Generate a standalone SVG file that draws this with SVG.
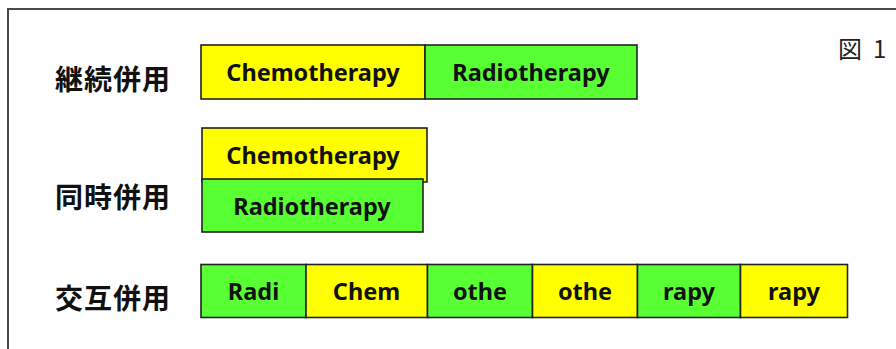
<svg xmlns="http://www.w3.org/2000/svg" width="896" height="349" viewBox="0 0 896 349">
<style>
.frame{fill:#fff;stroke:#4a4a4a;stroke-width:2}
.box{stroke:#222;stroke-width:1.6}
.y{fill:#ffff00}
.g{fill:#58ff33}
.t{font-family:"Noto Sans","Open Sans",sans-serif;font-weight:bold;font-size:23.5px;fill:#111;text-anchor:middle;dominant-baseline:central}
.lbl{font-family:"Noto Sans CJK JP","Noto Sans",sans-serif;font-weight:bold;font-size:28px;letter-spacing:1px;fill:#111;dominant-baseline:central}
.fig{font-family:"Noto Sans CJK JP","Noto Sans",sans-serif;font-size:24px;fill:#222;dominant-baseline:central}
</style>
<rect x="0" y="0" width="896" height="349" fill="#fff"/>
<rect class="frame" x="8" y="9" width="900" height="350"/>
<text class="fig" y="47"><tspan x="838">図</tspan><tspan x="873">1</tspan></text>
<g id="row1">
<text class="lbl" x="55" y="78">継続併用</text>
<g id="r1-chemo"><rect class="box y" x="201" y="45" width="224" height="54"/><text class="t" x="313" y="72">Chemotherapy</text></g>
<g id="r1-radio"><rect class="box g" x="425" y="45" width="212" height="54"/><text class="t" x="531" y="72">Radiotherapy</text></g>
</g>
<g id="row2">
<text class="lbl" x="55" y="196">同時併用</text>
<g id="r2-chemo"><rect class="box y" x="202" y="128" width="225" height="54"/><text class="t" x="313" y="155">Chemotherapy</text></g>
<g id="r2-radio"><rect class="box g" x="202" y="179" width="221" height="53"/><text class="t" x="312" y="206">Radiotherapy</text></g>
</g>
<g id="row3">
<text class="lbl" x="55" y="297">交互併用</text>
<g id="r3-1"><rect class="box g" x="201" y="264.5" width="105" height="53"/><text class="t" x="253.5" y="291">Radi</text></g>
<g id="r3-2"><rect class="box y" x="306" y="264.5" width="121.5" height="53"/><text class="t" x="366.5" y="291">Chem</text></g>
<g id="r3-3"><rect class="box g" x="427.5" y="264.5" width="105" height="53"/><text class="t" x="480" y="291">othe</text></g>
<g id="r3-4"><rect class="box y" x="532.5" y="264.5" width="105" height="53"/><text class="t" x="585" y="291">othe</text></g>
<g id="r3-5"><rect class="box g" x="637.5" y="264.5" width="103" height="53"/><text class="t" x="689" y="291">rapy</text></g>
<g id="r3-6"><rect class="box y" x="740.5" y="264.5" width="107" height="53"/><text class="t" x="794" y="291">rapy</text></g>
</g>
<g id="connectors"/>
</svg>
